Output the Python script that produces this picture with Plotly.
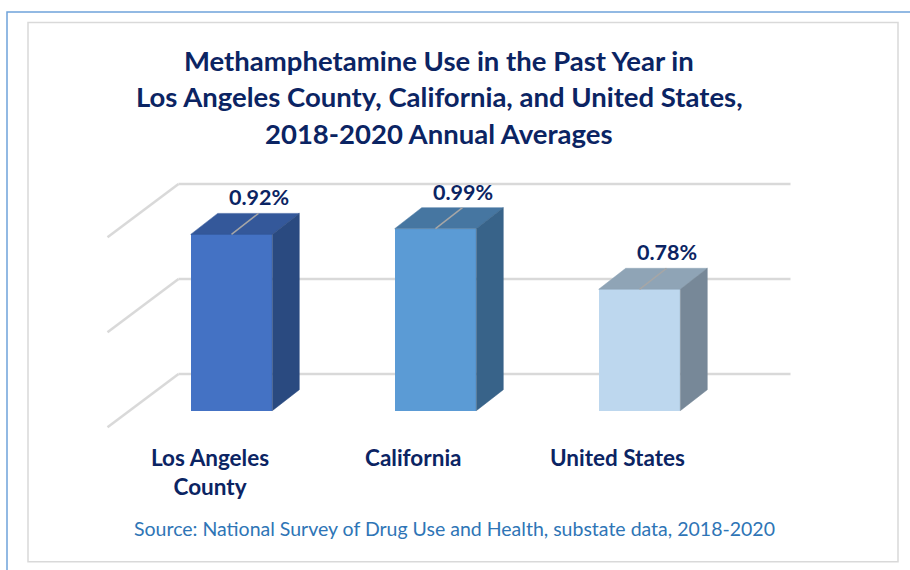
import plotly.graph_objects as go

# ---------------- data ----------------
categories = ["Los Angeles<br>County", "California", "United States"]
label_values = [0.92, 0.99, 0.78]          # printed data labels (%)
bar_heights = [0.928, 0.958, 0.639]        # bar heights as drawn in the picture (grid step 0.5)
grid_values = [0.0, 0.5, 1.0]

front_colors = ["#4472C4", "#5B9BD5", "#BDD7EE"]
top_colors = ["#34589A", "#4676A1", "#8FA4B6"]
side_colors = ["#2A4A80", "#386389", "#778898"]

title_lines = [
    "Methamphetamine Use in the Past Year in",
    "Los Angeles County, California, and United States,",
    "2018-2020 Annual Averages",
]
source_text = "Source: National Survey of Drug Use and Health, substate data, 2018-2020"

# ---------------- layout geometry ----------------
W, H = 910, 570
X0_PX, PX_PER_CAT = 231.5, 204.0
Y0_PX, PX_PER_VAL = 410.7, 190.0
x_range = [-X0_PX / PX_PER_CAT, (W - X0_PX) / PX_PER_CAT]
y_range = [(Y0_PX - H) / PX_PER_VAL, Y0_PX / PX_PER_VAL]

BAR_W = 0.4
DX, DY = 27 / PX_PER_CAT, 21 / PX_PER_VAL      # bar depth
GX, GY = 22 / PX_PER_CAT, 16.5 / PX_PER_VAL    # gap before bar
BX, BY = 49 / PX_PER_CAT, 36.7 / PX_PER_VAL    # bar front -> back wall

NAVY = "#0B2463"
xs = list(range(len(categories)))

fig = go.Figure()

# front faces
fig.add_trace(go.Bar(
    x=xs, y=bar_heights, width=BAR_W,
    marker=dict(color=front_colors, line=dict(width=0)),
    hoverinfo="skip", showlegend=False,
))

# top and side faces, leader lines
for i, (c, h) in enumerate(zip(xs, bar_heights)):
    l, r = c - BAR_W / 2, c + BAR_W / 2
    fig.add_trace(go.Scatter(
        x=[l, r, r + DX, l + DX, l], y=[h, h, h + DY, h + DY, h],
        fill="toself", fillcolor=top_colors[i], mode="lines",
        line=dict(color=top_colors[i], width=0.5),
        hoverinfo="skip", showlegend=False,
    ))
    fig.add_trace(go.Scatter(
        x=[r, r, r + DX, r + DX, r], y=[0, h, h + DY, DY, 0],
        fill="toself", fillcolor=side_colors[i], mode="lines",
        line=dict(color=side_colors[i], width=0.5),
        hoverinfo="skip", showlegend=False,
    ))
    fig.add_trace(go.Scatter(
        x=[c, c + DX], y=[h, h + DY], mode="lines",
        line=dict(color="#A6A6A6", width=1.5),
        hoverinfo="skip", showlegend=False,
    ))

shapes = []
# gridlines on back wall and side wall
for g in grid_values:
    shapes.append(dict(type="line", xref="x", yref="y", layer="below",
                       x0=-0.5 + BX, x1=len(xs) - 0.5 + BX, y0=g + BY, y1=g + BY,
                       line=dict(color="#D9D9D9", width=2.5)))
    shapes.append(dict(type="line", xref="x", yref="y", layer="below",
                       x0=-0.5 - GX, x1=-0.5 + BX, y0=g - GY, y1=g + BY,
                       line=dict(color="#D9D9D9", width=2.5)))
# frames
shapes.append(dict(type="path", xref="paper", yref="paper", layer="below",
                   path=f"M {7/W} 0 L {7/W} {1-12/H} L 1 {1-12/H}",
                   line=dict(color="#6FA3DA", width=1.5)))
shapes.append(dict(type="rect", xref="paper", yref="paper", layer="below",
                   x0=28 / W, x1=898 / W, y0=1 - 561.7 / H, y1=1 - 22.5 / H,
                   line=dict(color="#D9D9D9", width=1.5)))

annotations = []
# data labels
for c, h, v in zip(xs, bar_heights, label_values):
    annotations.append(dict(x=c + DX, y=h + DY, xref="x", yref="y",
                            text=f"<b>{v:.2f}%</b>", showarrow=False,
                            yanchor="middle", yshift=16,
                            font=dict(family="Lato", size=21.5, color=NAVY)))
# category labels
for c, name in zip(xs, categories):
    annotations.append(dict(x=c - GX, y=-GY, xref="x", yref="y",
                            text=f"<b>{name}</b>", showarrow=False,
                            yanchor="top", yshift=-15,
                            font=dict(family="Lato", size=22.5, color=NAVY)))
# title lines
for yy, line in zip([60, 97, 133], title_lines):
    annotations.append(dict(x=439 / W, y=1 - yy / H, xref="paper", yref="paper",
                            text=f"<b>{line}</b>", showarrow=False,
                            xanchor="center", yanchor="middle",
                            font=dict(family="Lato", size=27.5, color=NAVY)))
# source
annotations.append(dict(x=454.5 / W, y=1 - 528 / H, xref="paper", yref="paper",
                        text=source_text, showarrow=False,
                        xanchor="center", yanchor="middle",
                        font=dict(family="Lato", size=19.5, color="#2E75B6")))

fig.update_layout(
    width=W, height=H, margin=dict(l=0, r=0, t=0, b=0),
    paper_bgcolor="white", plot_bgcolor="rgba(0,0,0,0)",
    xaxis=dict(range=x_range, visible=False, fixedrange=True),
    yaxis=dict(range=y_range, visible=False, fixedrange=True),
    shapes=shapes, annotations=annotations, showlegend=False,
    bargap=0,
)

fig.write_html("out.html")
